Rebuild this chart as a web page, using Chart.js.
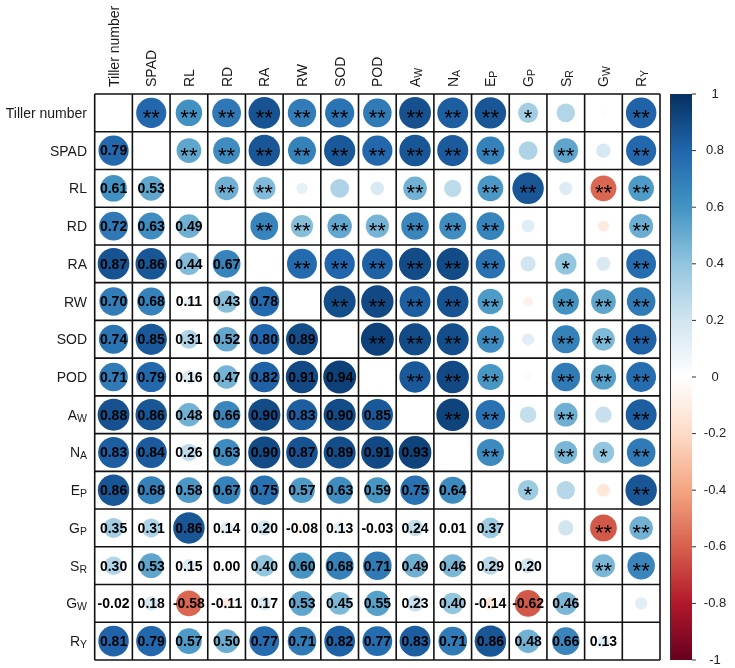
<!DOCTYPE html>
<html><head><meta charset="utf-8">
<script src="https://cdn.jsdelivr.net/npm/chart.js@4.4.1/dist/chart.umd.min.js"></script>
<style>html,body{margin:0;padding:0;background:#fff}canvas{display:block}</style>
</head><body>
<canvas id="c" width="735" height="668"></canvas>
<script>
// ---- Variables (categories) ----
const labelMain = ["Tiller number","SPAD","RL","RD","RA","RW","SOD","POD","A","N","E","G","S","G","R"];
const labelSub  = ["","","","","","","","","W","A","P","P","R","W","Y"];

// ---- Lower triangle correlations (row i, columns 0..i-1) ----
const corrRows = [
  [],
  [0.79],
  [0.61,0.53],
  [0.72,0.63,0.49],
  [0.87,0.86,0.44,0.67],
  [0.70,0.68,0.11,0.43,0.78],
  [0.74,0.85,0.31,0.52,0.80,0.89],
  [0.71,0.79,0.16,0.47,0.82,0.91,0.94],
  [0.88,0.86,0.48,0.66,0.90,0.83,0.90,0.85],
  [0.83,0.84,0.26,0.63,0.90,0.87,0.89,0.91,0.93],
  [0.86,0.68,0.58,0.67,0.75,0.57,0.63,0.59,0.75,0.64],
  [0.35,0.31,0.86,0.14,0.20,-0.08,0.13,-0.03,0.24,0.01,0.37],
  [0.30,0.53,0.15,0.00,0.40,0.60,0.68,0.71,0.49,0.46,0.29,0.20],
  [-0.02,0.18,-0.58,-0.11,0.17,0.53,0.45,0.55,0.23,0.40,-0.14,-0.62,0.46],
  [0.81,0.79,0.57,0.50,0.77,0.71,0.82,0.77,0.83,0.71,0.86,0.48,0.66,0.13]
];

// ---- Upper triangle significance marks (row i, columns i+1..14) ----
const sigRows = [
  ["**","**","**","**","**","**","**","**","**","**","*","","","**"],
  ["**","**","**","**","**","**","**","**","**","","**","","**"],
  ["**","**","","","","**","","**","**","","**","**"],
  ["**","**","**","**","**","**","**","","","","**"],
  ["**","**","**","**","**","**","","*","","**"],
  ["**","**","**","**","**","","**","**","**"],
  ["**","**","**","**","","**","**","**"],
  ["**","**","**","","**","**","**"],
  ["**","**","","**","","**"],
  ["**","","**","*","**"],
  ["*","","","**"],
  ["","**","**"],
  ["**","**"],
  [""],
  []
];

// ---- Colour legend ticks ----
const legendTicks = [1,0.8,0.6,0.4,0.2,0,-0.2,-0.4,-0.6,-0.8,-1];
const palette = ["#67001F","#B2182B","#D6604D","#F4A582","#FDDBC7","#FFFFFF","#D1E5F0","#92C5DE","#4393C3","#2166AC","#053061"];

function hex2rgb(h){return [parseInt(h.slice(1,3),16),parseInt(h.slice(3,5),16),parseInt(h.slice(5,7),16)];}
function corrColor(v){
  const t = (Math.max(-1,Math.min(1,v))+1)/2*(palette.length-1);
  const i = Math.min(Math.floor(t), palette.length-2);
  const f = t-i;
  const a = hex2rgb(palette[i]), b = hex2rgb(palette[i+1]);
  const c = a.map((x,k)=>Math.round(x+(b[k]-x)*f));
  return `rgb(${c[0]},${c[1]},${c[2]})`;
}
const n = labelMain.length;
function corrAt(i,j){ return i>j ? corrRows[i][j] : corrRows[j][i]; }

// layout
const W = 735, PAD = {left:94.7, top:94, right:75, bottom:8};
const cellPx = (W - PAD.left - PAD.right) / n;

const points = [];
for (let i=0;i<n;i++) for (let j=0;j<n;j++) if (i!==j) {
  const v = corrAt(i,j);
  points.push({x:j, y:i, v:v, r:Math.max(0.001, 0.45*cellPx*Math.sqrt(Math.abs(v)))});
}

const FONT = '"Liberation Sans", Arial, Helvetica, sans-serif';

function drawLabel(ctx, main, sub, x, y, alignRight){
  ctx.font = `14px ${FONT}`;
  const wm = ctx.measureText(main).width;
  ctx.font = `10.5px ${FONT}`;
  const ws = sub ? ctx.measureText(sub).width : 0;
  let x0 = alignRight ? x - wm - ws : x;
  ctx.textAlign = 'left';
  ctx.textBaseline = 'alphabetic';
  ctx.font = `14px ${FONT}`;
  ctx.fillText(main, x0, y);
  if (sub){ ctx.font = `10.5px ${FONT}`; ctx.fillText(sub, x0+wm, y+2); }
}

const decor = {
  id:'decor',
  afterDatasetsDraw(chart){
    const ctx = chart.ctx, xs = chart.scales.x, ys = chart.scales.y;
    ctx.save();
    // grid
    ctx.strokeStyle = '#111'; ctx.lineWidth = 1.6;
    for (let k=0;k<=n;k++){
      const px = xs.getPixelForValue(k-0.5), py = ys.getPixelForValue(k-0.5);
      ctx.beginPath(); ctx.moveTo(px, ys.getPixelForValue(-0.5)); ctx.lineTo(px, ys.getPixelForValue(n-0.5)); ctx.stroke();
      ctx.beginPath(); ctx.moveTo(xs.getPixelForValue(-0.5), py); ctx.lineTo(xs.getPixelForValue(n-0.5), py); ctx.stroke();
    }
    // numbers (lower) and stars (upper)
    ctx.fillStyle = '#000';
    for (let i=0;i<n;i++){
      const cy = ys.getPixelForValue(i);
      for (let j=0;j<i;j++){
        const cx = xs.getPixelForValue(j);
        ctx.font = `bold 14px ${FONT}`; ctx.textAlign='center'; ctx.textBaseline='middle';
        ctx.fillText(corrRows[i][j].toFixed(2), cx, cy+1);
      }
      for (let j=i+1;j<n;j++){
        const s = sigRows[i][j-i-1];
        if (!s) continue;
        const cx = xs.getPixelForValue(j);
        ctx.font = `22px ${FONT}`; ctx.textAlign='center'; ctx.textBaseline='alphabetic';
        const m = ctx.measureText(s);
        ctx.fillText(s, cx, cy + (m.actualBoundingBoxAscent - m.actualBoundingBoxDescent)/2 + 1);
      }
    }
    // row labels
    ctx.fillStyle = '#1a1a1a';
    for (let i=0;i<n;i++){
      drawLabel(ctx, labelMain[i], labelSub[i], 87, ys.getPixelForValue(i)+5, true);
    }
    // column labels (rotated)
    for (let j=0;j<n;j++){
      ctx.save();
      ctx.translate(xs.getPixelForValue(j)+5, 87);
      ctx.rotate(-Math.PI/2);
      drawLabel(ctx, labelMain[j], labelSub[j], 0, 0, false);
      ctx.restore();
    }
    // colour legend
    const top = ys.getPixelForValue(-0.5), bot = ys.getPixelForValue(n-0.5);
    const lx = 670, lw = 22;
    const g = ctx.createLinearGradient(0, bot, 0, top);
    palette.forEach((c,k)=>g.addColorStop(k/(palette.length-1), c));
    ctx.fillStyle = g; ctx.fillRect(lx, top, lw, bot-top);
    ctx.strokeStyle = '#333'; ctx.lineWidth = 1;
    ctx.beginPath(); ctx.moveTo(lx+0.5, top); ctx.lineTo(lx+0.5, bot); ctx.stroke();
    ctx.fillStyle = '#222'; ctx.font = `13px ${FONT}`; ctx.textAlign='center'; ctx.textBaseline='middle';
    legendTicks.forEach(v=>{
      const y = top + (1-v)/2*(bot-top);
      ctx.beginPath(); ctx.moveTo(lx+lw, y); ctx.lineTo(lx+lw+4, y); ctx.stroke();
      ctx.fillText(String(v), 715, y);
    });
    ctx.restore();
  }
};

new Chart(document.getElementById('c'), {
  type:'bubble',
  data:{ datasets:[{
    data: points,
    clip: false,
    backgroundColor: c => c.raw ? corrColor(c.raw.v) : '#fff',
    borderColor: c => c.raw ? corrColor(c.raw.v) : '#fff',
    borderWidth: 0
  }]},
  options:{
    responsive:false, animation:false, events:[],
    layout:{padding:PAD, autoPadding:false},
    plugins:{legend:{display:false}, tooltip:{enabled:false}},
    scales:{
      x:{type:'linear', min:-0.5, max:n-0.5, display:false},
      y:{type:'linear', min:-0.5, max:n-0.5, reverse:true, display:false}
    }
  },
  plugins:[decor]
});
</script>
</body></html>
